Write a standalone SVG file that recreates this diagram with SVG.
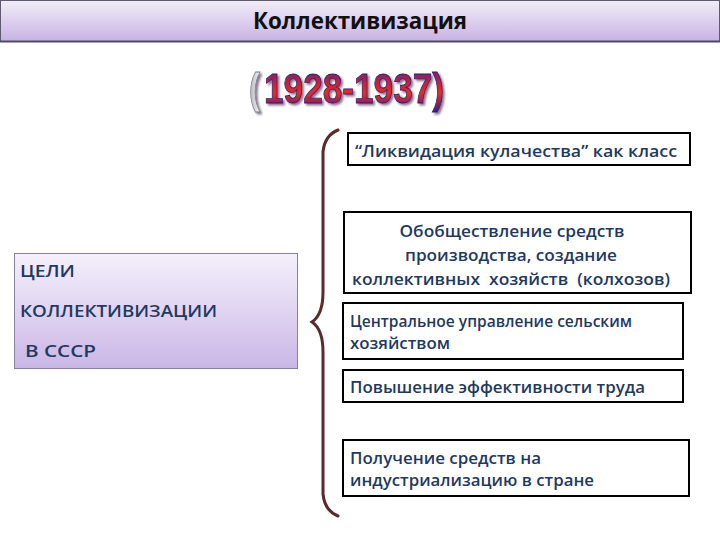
<svg xmlns="http://www.w3.org/2000/svg" width="720" height="540" viewBox="0 0 720 540">
<defs>
<linearGradient id="gBar" x1="0" y1="0" x2="0" y2="1">
<stop offset="0" stop-color="#f1edf7"/>
<stop offset="0.5" stop-color="#ddd0ee"/>
<stop offset="1" stop-color="#c6b2e3"/>
</linearGradient>
<linearGradient id="gLeft" x1="0" y1="0" x2="0" y2="1">
<stop offset="0" stop-color="#f4f0fb"/>
<stop offset="0.5" stop-color="#e0d4f1"/>
<stop offset="1" stop-color="#c9b6e6"/>
</linearGradient>
<linearGradient id="gYear" x1="0" y1="0" x2="0" y2="1">
<stop offset="0" stop-color="#4a2490"/>
<stop offset="0.45" stop-color="#d8222c"/>
<stop offset="0.6" stop-color="#e0302a"/>
<stop offset="1" stop-color="#3a1c80"/>
</linearGradient>
<linearGradient id="gParen" x1="0" y1="0" x2="1" y2="0">
<stop offset="0" stop-color="#b0b0b8"/>
<stop offset="1" stop-color="#f4f4f6"/>
</linearGradient>
<filter id="shadow" x="-10%" y="-20%" width="130%" height="150%">
<feDropShadow dx="2" dy="2" stdDeviation="0.8" flood-color="#2a1a40" flood-opacity="0.6"/>
</filter>
<style>
.box{fill:#ffffff;stroke:#000000;stroke-width:2}
.t{font-family:"Open Sans","Noto Sans","DejaVu Sans",sans-serif;font-weight:600;font-size:17px;fill:#1f3a5f}
.c{text-anchor:middle}
.yr{font-family:"Liberation Sans",Arial,sans-serif;font-weight:700;font-size:42px}
</style>
</defs>

<g id="title">
<rect x="0.5" y="0.5" width="719" height="41" fill="url(#gBar)" stroke="#5f5a72" stroke-width="1"/>
<line x1="0" y1="41.5" x2="720" y2="41.5" stroke="#4e4a60" stroke-width="2"/>
<text x="360" y="29" text-anchor="middle" font-family="Open Sans, Noto Sans, sans-serif" font-weight="700" font-size="24" fill="#111111" textLength="214" lengthAdjust="spacingAndGlyphs">Коллективизация</text>
</g>

<g id="years">
<text class="yr" x="249" y="103" filter="url(#shadow)" fill="url(#gParen)" stroke="#7a7a86" stroke-width="0.8" textLength="11" lengthAdjust="spacingAndGlyphs">(</text>
<text class="yr" x="264" y="103" filter="url(#shadow)" fill="url(#gYear)" stroke="#3a1870" stroke-width="0.8" textLength="180" lengthAdjust="spacingAndGlyphs">1928-1937)</text>
</g>

<g id="connectors">
<path d="M338,130 C328,134 324,142 323,152 L323,292 C323,310 318,318 312,322 C318,326 323,334 323,352 L323,494 C324,504 328,512 338,516" fill="none" stroke="#5a2a2e" stroke-width="3" stroke-linecap="round"/>
</g>

<g id="goals">
<rect x="14.5" y="253.5" width="283" height="115" fill="url(#gLeft)" stroke="#8a80a0" stroke-width="1"/>
<text class="t" x="20" y="277" font-size="19" textLength="55" lengthAdjust="spacingAndGlyphs">ЦЕЛИ</text>
<text class="t" x="20" y="317" font-size="19" textLength="197" lengthAdjust="spacingAndGlyphs">КОЛЛЕКТИВИЗАЦИИ</text>
<text class="t" x="25" y="357" font-size="19" textLength="71" lengthAdjust="spacingAndGlyphs">В СССР</text>
</g>

<g id="goal1">
<rect class="box" x="348" y="133" width="342" height="32"/>
<text class="t" x="355" y="157" textLength="322" lengthAdjust="spacingAndGlyphs">“Ликвидация кулачества” как класс</text>
</g>

<g id="goal2">
<rect class="box" x="344" y="212" width="347" height="81"/>
<text class="t c" x="512" y="237" textLength="225" lengthAdjust="spacingAndGlyphs">Обобществление средств</text>
<text class="t c" x="511" y="261" textLength="212" lengthAdjust="spacingAndGlyphs">производства, создание</text>
<text class="t c" x="511" y="285" style="white-space:pre" textLength="318" lengthAdjust="spacingAndGlyphs">коллективных  хозяйств  (колхозов)</text>
</g>

<g id="goal3">
<rect class="box" x="343" y="303" width="340" height="56"/>
<text class="t" x="350" y="327" textLength="282" lengthAdjust="spacingAndGlyphs">Центральное управление сельским</text>
<text class="t" x="350" y="349" textLength="100" lengthAdjust="spacingAndGlyphs">хозяйством</text>
</g>

<g id="goal4">
<rect class="box" x="343" y="370" width="340" height="32"/>
<text class="t" x="350" y="393" textLength="295" lengthAdjust="spacingAndGlyphs">Повышение эффективности труда</text>
</g>

<g id="goal5">
<rect class="box" x="343" y="440" width="346" height="56"/>
<text class="t" x="350" y="464" textLength="191" lengthAdjust="spacingAndGlyphs">Получение средств на</text>
<text class="t" x="350" y="486" textLength="244" lengthAdjust="spacingAndGlyphs">индустриализацию в стране</text>
</g>
</svg>
